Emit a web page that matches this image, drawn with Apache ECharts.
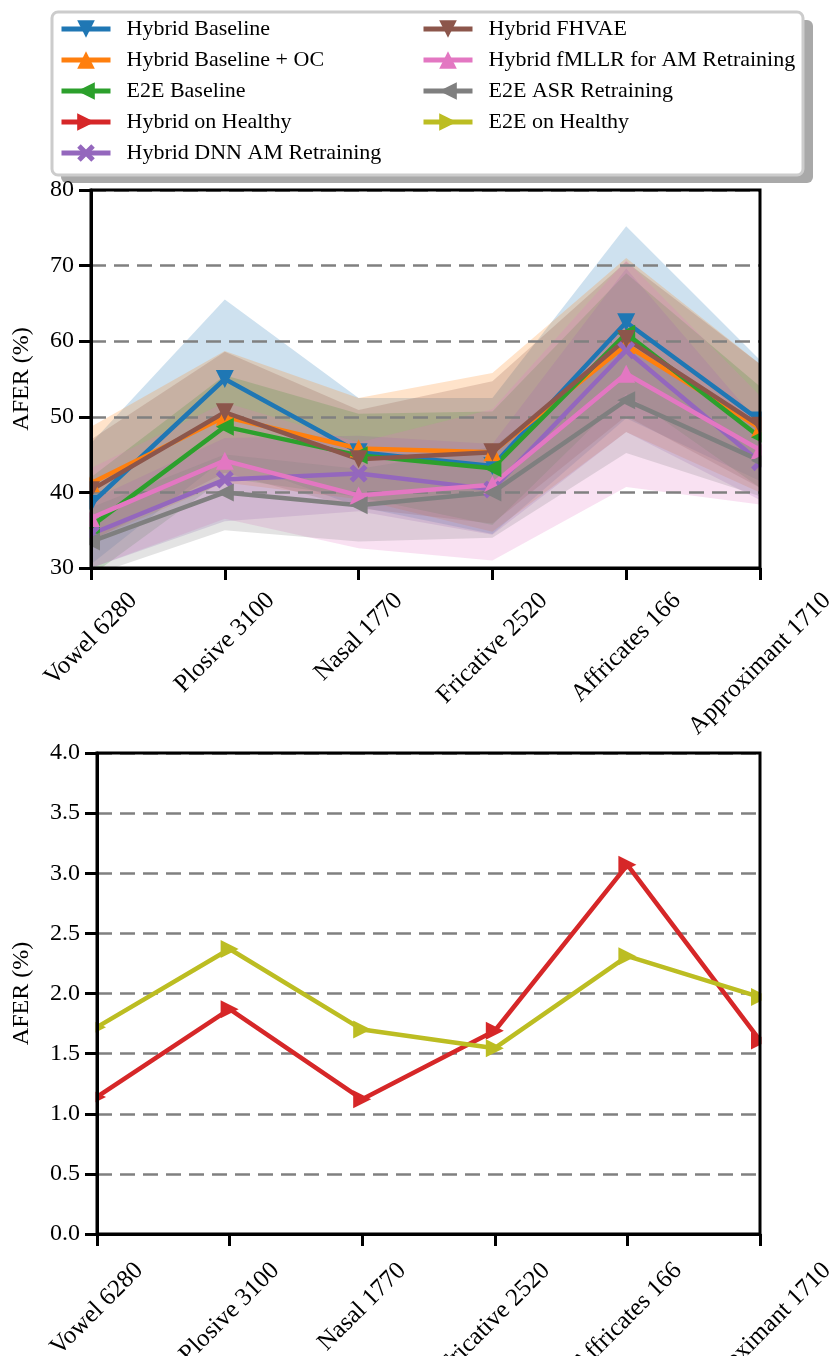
<!DOCTYPE html>
<html>
<head>
<meta charset="utf-8">
<script src="https://cdn.jsdelivr.net/npm/echarts@6/dist/echarts.min.js"></script>
<style>
  html, body { margin: 0; padding: 0; background: #fff; }
  #chart { width: 833px; height: 1356px; }
</style>
</head>
<body>
<div id="chart"></div>
<script>
// phone classes with number of samples
const categories = ['Vowel 6280', 'Plosive 3100', 'Nasal 1770', 'Fricative 2520', 'Affricates 166', 'Approximant 1710'];

// top panel: mean AFER (%) per system
const hybridBaseline   = [38.5, 55.0, 45.3, 43.5, 62.5, 49.5];
const hybridBaselineOC = [41.2, 50.0, 45.8, 45.3, 59.5, 48.5];
const e2eBaseline      = [35.5, 48.7, 44.9, 43.2, 61.0, 47.3];
const hybridDnnAm      = [34.5, 41.7, 42.5, 40.4, 58.8, 44.0];
const hybridFhvae      = [40.3, 50.6, 44.4, 45.3, 60.3, 48.8];
const hybridFmllr      = [36.6, 44.2, 39.6, 41.0, 55.7, 45.6];
const e2eAsrRetrain    = [33.5, 40.0, 38.3, 40.0, 52.2, 44.2];

// top panel: spread (std) per system, drawn as mean +/- std
const hybridBaselineStd   = [8.0, 10.5, 7.2, 9.0, 12.7, 8.0];
const hybridBaselineOCStd = [7.5, 8.7, 6.7, 10.5, 11.5, 8.5];
const e2eBaselineStd      = [6.5, 6.8, 5.5, 7.5, 8.0, 6.7];
const hybridDnnAmStd      = [4.5, 5.5, 5.0, 6.0, 10.8, 5.0];
const hybridFhvaeStd      = [6.7, 8.0, 6.5, 9.4, 10.2, 8.2];
const hybridFmllrStd      = [6.6, 7.7, 7.0, 10.0, 15.0, 7.2];
const e2eAsrRetrainStd    = [4.5, 5.0, 4.8, 6.0, 7.0, 4.7];

// bottom panel: healthy speech
const hybridHealthy = [1.14, 1.87, 1.12, 1.69, 3.07, 1.61];
const e2eHealthy    = [1.72, 2.37, 1.70, 1.545, 2.31, 1.97];

const topTicks = { min: 30, max: 80, interval: 10 };
const bottomTicks = { min: 0, max: 4, interval: 0.5 };

const W = 833;
const FONT = 'Liberation Serif';
const LABEL_SIZE = 25;
const crossPath = 'path://M2,0 L5,3 L8,0 L10,2 L7,5 L10,8 L8,10 L5,7 L2,10 L0,8 L3,5 L0,2 Z';

const gridTop = { left: 91, right: 73, top: 190, height: 378 };
const gridBottom = { left: 97, right: 73, top: 753, height: 481 };

const topSystems = [
  { name: 'Hybrid Baseline', mean: hybridBaseline, std: hybridBaselineStd, color: '#1f77b4', symbol: 'triangle', rotate: 180 },
  { name: 'Hybrid Baseline + OC', mean: hybridBaselineOC, std: hybridBaselineOCStd, color: '#ff7f0e', symbol: 'triangle', rotate: 0 },
  { name: 'E2E Baseline', mean: e2eBaseline, std: e2eBaselineStd, color: '#2ca02c', symbol: 'triangle', rotate: 90 },
  { name: 'Hybrid DNN AM Retraining', mean: hybridDnnAm, std: hybridDnnAmStd, color: '#9467bd', symbol: crossPath, rotate: 0 },
  { name: 'Hybrid FHVAE', mean: hybridFhvae, std: hybridFhvaeStd, color: '#8c564b', symbol: 'triangle', rotate: 180 },
  { name: 'Hybrid fMLLR for AM Retraining', mean: hybridFmllr, std: hybridFmllrStd, color: '#e377c2', symbol: 'triangle', rotate: 0 },
  { name: 'E2E ASR Retraining', mean: e2eAsrRetrain, std: e2eAsrRetrainStd, color: '#7f7f7f', symbol: 'triangle', rotate: 90 }
];
const bottomSystems = [
  { name: 'Hybrid on Healthy', values: hybridHealthy, color: '#d62728', symbol: 'triangle', rotate: -90 },
  { name: 'E2E on Healthy', values: e2eHealthy, color: '#bcbd22', symbol: 'triangle', rotate: -90 }
];

const legendLeft = ['Hybrid Baseline', 'Hybrid Baseline + OC', 'E2E Baseline', 'Hybrid on Healthy', 'Hybrid DNN AM Retraining'];
const legendRight = ['Hybrid FHVAE', 'Hybrid fMLLR for AM Retraining', 'E2E ASR Retraining', 'E2E on Healthy'];

const series = [];

// bands first, so the lines sit on top
topSystems.forEach((s, i) => {
  const lower = s.mean.map((m, k) => m - s.std[k]);
  const width = s.std.map(v => 2 * v);
  series.push({
    name: s.name + ' low', type: 'line', xAxisIndex: 0, yAxisIndex: 0,
    data: lower, stack: 'band' + i, symbol: 'none', silent: true,
    lineStyle: { opacity: 0 }, z: 1
  });
  series.push({
    name: s.name + ' band', type: 'line', xAxisIndex: 0, yAxisIndex: 0,
    data: width, stack: 'band' + i, symbol: 'none', silent: true,
    lineStyle: { opacity: 0 },
    areaStyle: { color: s.color, opacity: 0.22 }, z: 1
  });
});

function lineSeries(s, values, axis, lw, size) {
  return {
    name: s.name, type: 'line', xAxisIndex: axis, yAxisIndex: axis,
    data: values,
    symbol: s.symbol, symbolRotate: s.rotate, symbolSize: size,
    showAllSymbol: true,
    lineStyle: { color: s.color, width: lw },
    itemStyle: { color: s.color },
    z: 3
  };
}
topSystems.forEach(s => series.push(lineSeries(s, s.mean, 0, 4.5, 18)));
bottomSystems.forEach(s => series.push(lineSeries(s, s.values, 1, 4.5, 18)));

// rotated tick labels: keep the top of every label box just under the axis,
// like the original, by padding longer labels (measured with canvas)
const ctx = document.createElement('canvas').getContext('2d');
ctx.font = LABEL_SIZE + 'px "' + FONT + '"';
const labelWidths = categories.map(c => ctx.measureText(c).width);
const shortest = Math.min(...labelWidths);
const labelRich = {};
labelWidths.forEach((w, i) => {
  const p = Math.round(0.5 * (w - shortest));
  labelRich['c' + i] = { fontFamily: FONT, fontSize: LABEL_SIZE, color: '#000', padding: [p, p, 0, 0] };
});
const labelMargin = 20 + 0.354 * (shortest + LABEL_SIZE);

const axisLineStyle = { color: '#000', width: 3 };
const splitDash = { color: '#808080', width: 2.5, type: [15, 8] };

function xAxis(idx, extra) {
  return {
    type: 'category', gridIndex: idx, data: categories, boundaryGap: false, z: 10,
    axisLine: { lineStyle: axisLineStyle },
    axisTick: { show: true, length: 12, lineStyle: axisLineStyle, interval: 0 },
    axisLabel: {
      interval: 0, rotate: 45, align: 'center', verticalAlign: 'middle', margin: labelMargin + extra,
      fontFamily: FONT, fontSize: LABEL_SIZE, color: '#000', hideOverlap: false,
      formatter: (v, i) => '{c' + i + '|' + v + '}',
      rich: labelRich
    },
    splitLine: { show: false }
  };
}
function yAxis(idx, ticks, gap, fmt) {
  return {
    type: 'value', gridIndex: idx, min: ticks.min, max: ticks.max, interval: ticks.interval, z: 10,
    name: 'AFER (%)', nameLocation: 'middle', nameGap: gap,
    nameTextStyle: { fontFamily: FONT, fontSize: 24, color: '#000' },
    axisLine: { show: true, lineStyle: axisLineStyle },
    axisTick: { show: true, length: 12, lineStyle: axisLineStyle },
    axisLabel: { fontFamily: FONT, fontSize: 24, color: '#000', margin: 17, formatter: fmt },
    splitLine: { show: false }
  };
}
// dashed grid lines sit between the bands and the lines
function gridLinesAxis(idx, ticks) {
  return {
    type: 'value', gridIndex: idx, min: ticks.min, max: ticks.max, interval: ticks.interval, z: 2,
    axisLine: { show: false }, axisTick: { show: false }, axisLabel: { show: false },
    splitLine: { show: true, lineStyle: splitDash }
  };
}

function legend(names, left) {
  return {
    data: names, orient: 'vertical', left: left, top: 18, padding: 0,
    itemWidth: 49, itemHeight: 22, itemGap: 9,
    lineStyle: { width: 5 },
    formatter: n => '{t|' + n + '}',
    textStyle: {
      color: '#000',
      rich: { t: { fontFamily: FONT, fontSize: 22, lineHeight: 22, color: '#000', padding: [0, 0, 0, 11] } }
    },
    selectedMode: false
  };
}

// white masks beside each plot: markers at the first/last category are cut
// at the frame, as in the original
function masks(g) {
  const r = W - g.right;
  return [
    { type: 'rect', z: 5, silent: true, shape: { x: 0, y: g.top, width: g.left - 1.5, height: g.height }, style: { fill: '#fff' } },
    { type: 'rect', z: 5, silent: true, shape: { x: r + 1.5, y: g.top, width: g.right, height: g.height }, style: { fill: '#fff' } }
  ];
}

const gridBase = { outerBoundsMode: 'none', containLabel: false, show: true, z: 10,
  borderColor: '#000', borderWidth: 3, backgroundColor: 'transparent' };

const chart = echarts.init(document.getElementById('chart'), null, { renderer: 'canvas' });
chart.setOption({
  animation: false,
  backgroundColor: '#fff',
  graphic: [
    { type: 'rect', z: 0, shape: { x: 61, y: 20, width: 752, height: 163, r: 6 }, style: { fill: '#a9a9a9' } },
    { type: 'rect', z: 0, shape: { x: 52, y: 12, width: 751, height: 163, r: 6 }, style: { fill: '#fff', stroke: '#cccccc', lineWidth: 3 } }
  ].concat(masks(gridTop), masks(gridBottom)),
  legend: [legend(legendLeft, 59), legend(legendRight, 421)],
  grid: [Object.assign({}, gridBase, gridTop), Object.assign({}, gridBase, gridBottom)],
  xAxis: [xAxis(0, 0), xAxis(1, 4)],
  yAxis: [
    yAxis(0, topTicks, 57, v => String(v)),
    yAxis(1, bottomTicks, 63, v => v.toFixed(1)),
    gridLinesAxis(0, topTicks),
    gridLinesAxis(1, bottomTicks)
  ],
  series: series
});
window.addEventListener('resize', () => chart.resize());
</script>
</body>
</html>
